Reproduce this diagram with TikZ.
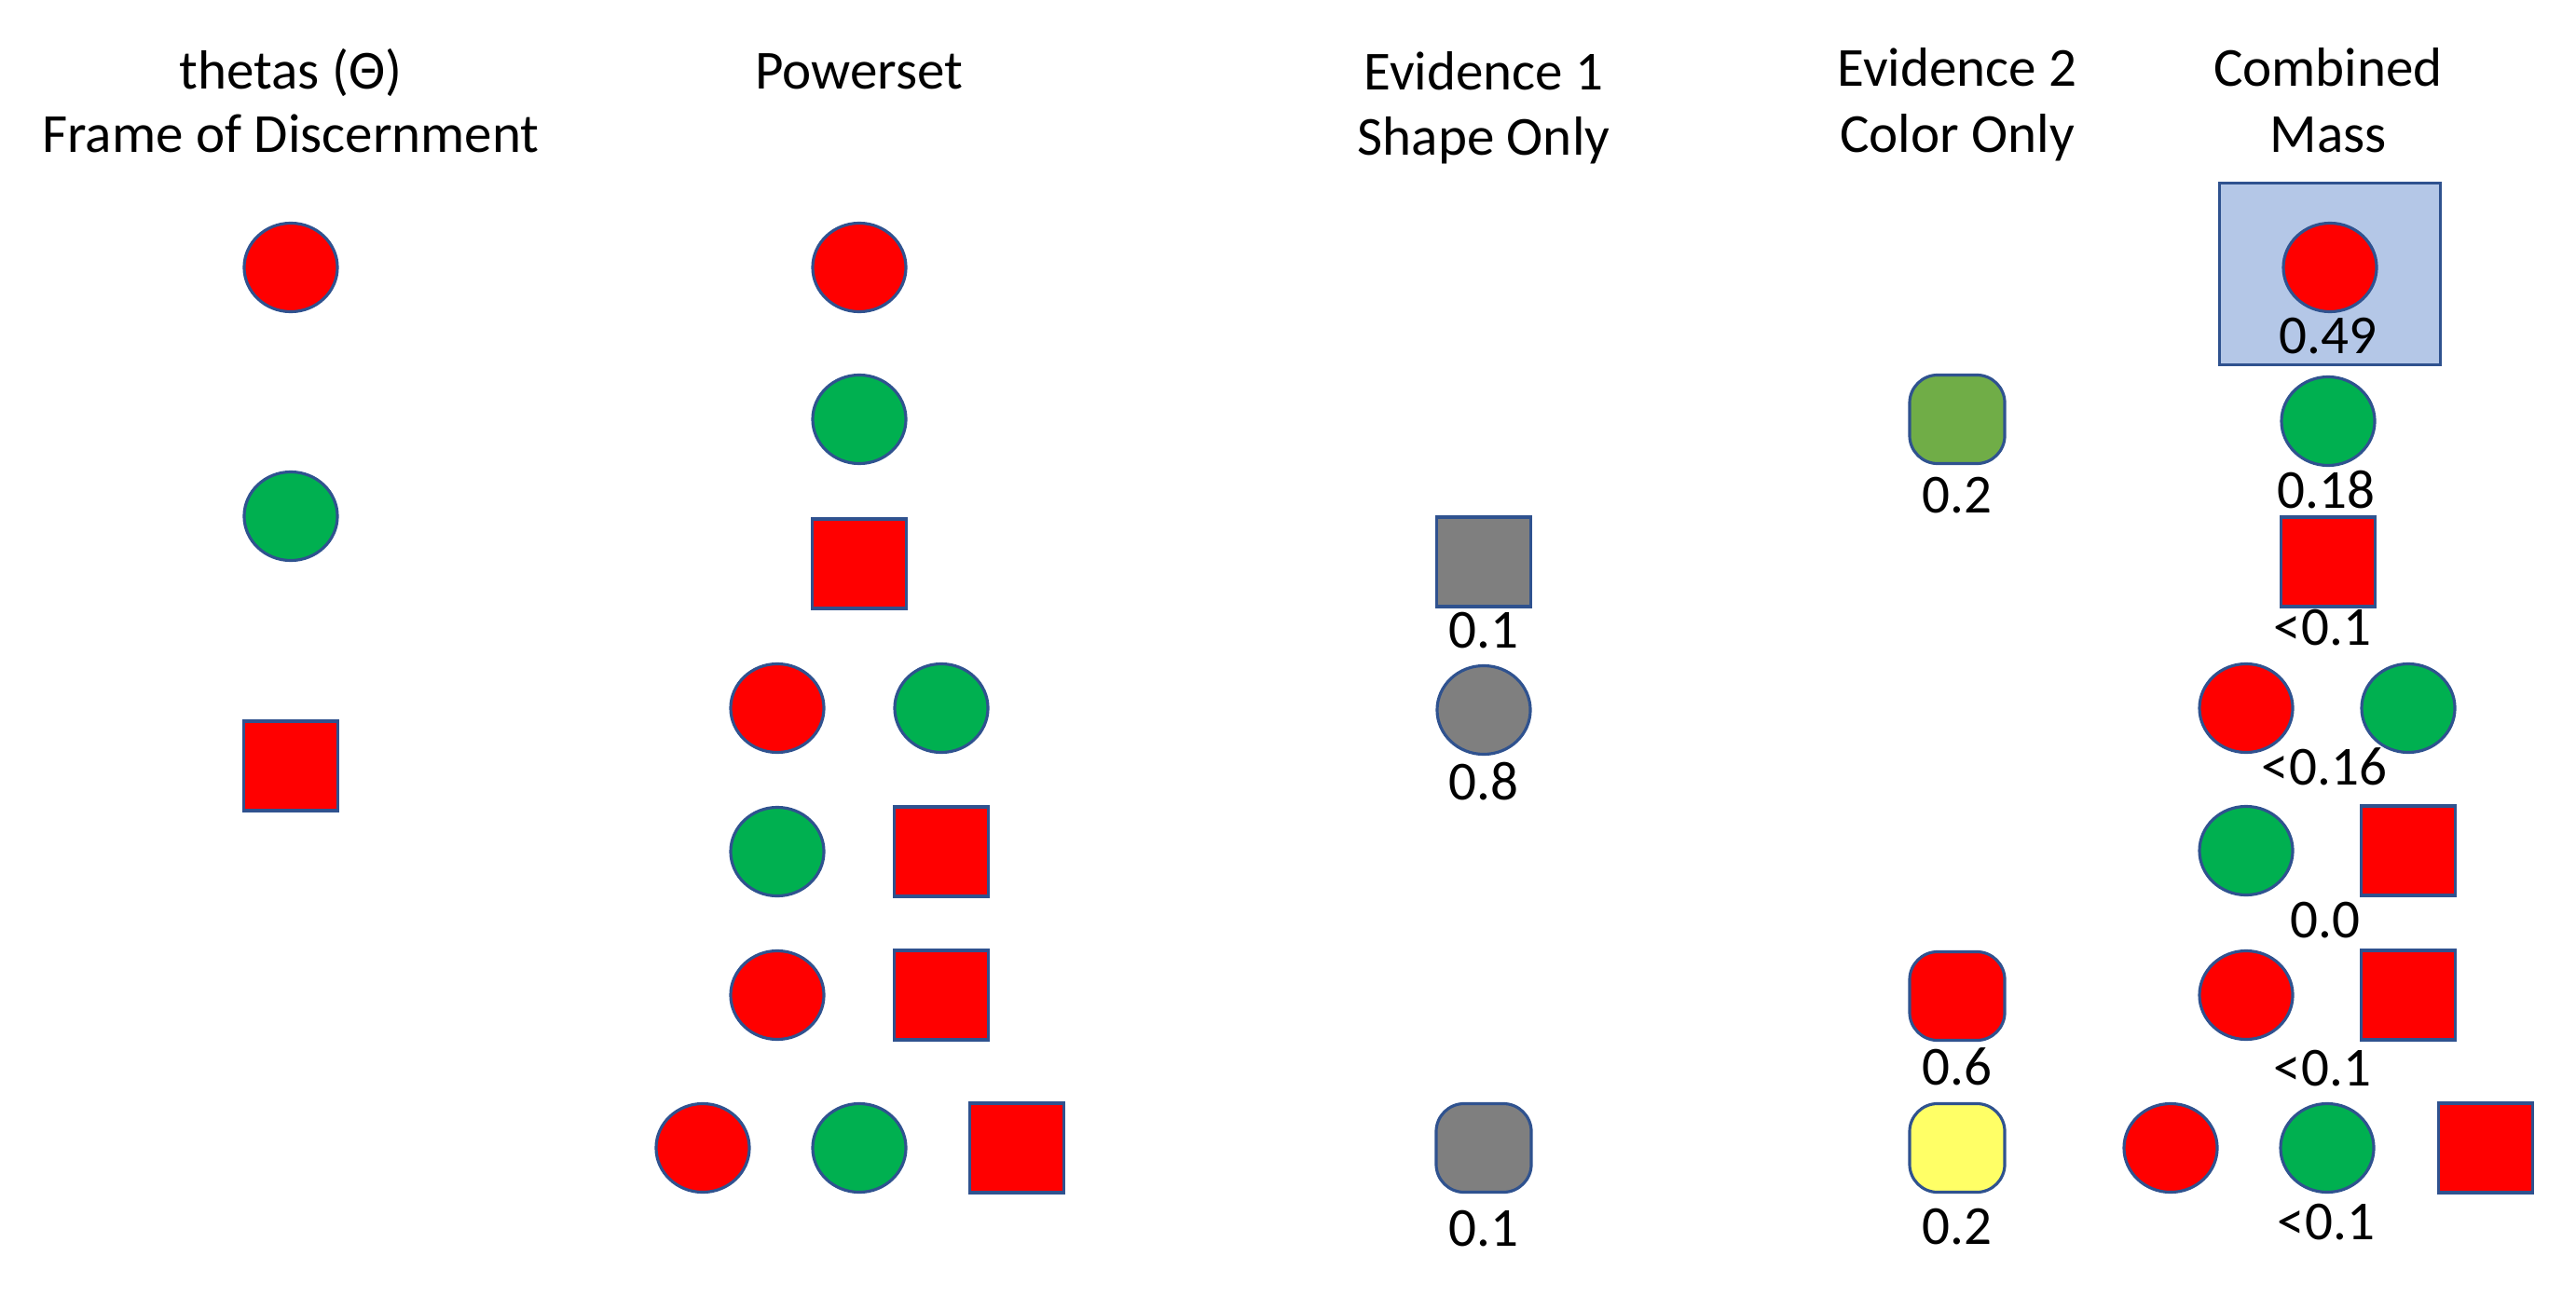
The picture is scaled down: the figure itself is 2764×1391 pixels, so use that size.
\documentclass[tikz,border=0pt]{standalone}
\usepackage{fontspec}
\setmainfont{Carlito}
\usetikzlibrary{shapes.geometric}
\definecolor{rd}{HTML}{FF0000}
\definecolor{gn}{HTML}{00B050}
\definecolor{olc}{HTML}{2F528F}
\definecolor{gy}{HTML}{7F7F7F}
\definecolor{og}{HTML}{70AD47}
\definecolor{yl}{HTML}{FFFF66}
\definecolor{bl}{HTML}{B4C7E7}
\tikzset{
 shp/.style={draw=olc, line width=0.9pt, inner sep=0pt},
 ell/.style={shp, ellipse, minimum width=1.0cm, minimum height=0.95cm},
 sq/.style={shp, rectangle, minimum width=1.01cm, minimum height=0.96cm},
 rr/.style={shp, rectangle, rounded corners=0.3cm, minimum width=1.02cm, minimum height=0.95cm},
 rc/.style={ell, fill=rd},
 gc/.style={ell, fill=gn},
 rs/.style={sq, fill=rd},
 txt/.style={inner sep=0pt, anchor=base, font=\fontsize{16.8}{20}\selectfont},
}
\begin{document}
\begin{tikzpicture}[x=0.01cm,y=-0.01cm]
\useasboundingbox (0,0) rectangle (2764,1391);
% titles
\node[txt] (h1a) at (312,96) {thetas (Θ)};
\node[txt] (h1b) at (312,164) {Frame of Discernment};
\node[txt] (h2) at (922,96) {Powerset};
\node[txt] (h3a) at (1592,97) {Evidence 1};
\node[txt] (h3b) at (1592,167) {Shape Only};
\node[txt] (h4a) at (2100,93) {Evidence 2};
\node[txt] (h4b) at (2100,163) {Color Only};
\node[txt] (h5a) at (2498,93) {Combined};
\node[txt] (h5b) at (2498,163) {Mass};
% column 1
\node[rc] (t1) at (312,287) {};
\node[gc] (t2) at (312,554) {};
\node[rs] (t3) at (312,822) {};
% powerset
\node[rc] (p1) at (922,287) {};
\node[gc] (p2) at (922,450) {};
\node[rs] (p3) at (922,605) {};
\node[rc] (p4a) at (834,760) {};
\node[gc] (p4b) at (1010,760) {};
\node[gc] (p5a) at (834,914) {};
\node[rs] (p5b) at (1010,914) {};
\node[rc] (p6a) at (834,1068) {};
\node[rs] (p6b) at (1010,1068) {};
\node[rc] (p7a) at (754,1232) {};
\node[gc] (p7b) at (922,1232) {};
\node[rs] (p7c) at (1091,1232) {};
% evidence 1
\node[sq, fill=gy] (e1) at (1592,603) {};
\node[txt] (e1l) at (1592,695) {0.1};
\node[ell, fill=gy] (e2) at (1592,762) {};
\node[txt] (e2l) at (1592,858) {0.8};
\node[rr, fill=gy] (e3) at (1592,1232) {};
\node[txt] (e3l) at (1592,1337) {0.1};
% evidence 2
\node[rr, fill=og] (f1) at (2100,450) {};
\node[txt] (f1l) at (2100,550) {0.2};
\node[rr, fill=rd] (f2) at (2100,1069) {};
\node[txt] (f2l) at (2100,1164) {0.6};
\node[rr, fill=yl] (f3) at (2100,1232) {};
\node[txt] (f3l) at (2100,1335) {0.2};
% combined
\node[shp, rectangle, fill=bl, minimum width=2.37cm, minimum height=1.95cm] (hl) at (2500,294) {};
\node[rc] (c1) at (2500,287) {};
\node[txt] (c1l) at (2498,379) {0.49};
\node[gc] (c2) at (2498,452) {};
\node[txt] (c2l) at (2496,545) {0.18};
\node[rs] (c3) at (2498,603) {};
\node[txt] (c3l) at (2492,692) {<0.1};
\node[rc] (c4a) at (2410,760) {};
\node[gc] (c4b) at (2584,760) {};
\node[txt] (c4l) at (2494,842) {<0.16};
\node[gc] (c5a) at (2410,913) {};
\node[rs] (c5b) at (2584,913) {};
\node[txt] (c5l) at (2495,1006) {0.0};
\node[rc] (c6a) at (2410,1068) {};
\node[rs] (c6b) at (2584,1068) {};
\node[txt] (c6l) at (2492,1165) {<0.1};
\node[rc] (c7a) at (2329,1232) {};
\node[gc] (c7b) at (2497,1232) {};
\node[rs] (c7c) at (2667,1232) {};
\node[txt] (c7l) at (2496,1330) {<0.1};
\end{tikzpicture}
\end{document}
